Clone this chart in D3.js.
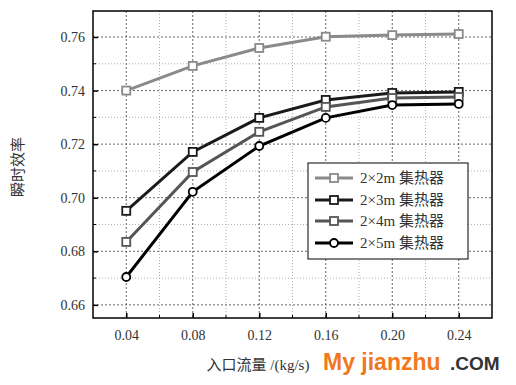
<!DOCTYPE html>
<html>
<head>
<meta charset="utf-8">
<script src="https://cdn.jsdelivr.net/npm/d3@7"></script>
<style>
  body { margin: 0; background: #fff; }
</style>
</head>
<body>
<div id="chart"></div>
<script>
// flow rates (kg/s)
var flow = [0.04, 0.08, 0.12, 0.16, 0.20, 0.24];
var xTicks = ["0.04", "0.08", "0.12", "0.16", "0.20", "0.24"];
var yTicks = [0.66, 0.68, 0.70, 0.72, 0.74, 0.76];

var names = ["2×2m 集热器", "2×3m 集热器", "2×4m 集热器", "2×5m 集热器"];
var eff2x2 = [0.740, 0.7492, 0.7559, 0.7601, 0.7607, 0.7611];
var eff2x3 = [0.6951, 0.7171, 0.7298, 0.7365, 0.7391, 0.7395];
var eff2x4 = [0.6835, 0.7096, 0.7246, 0.7339, 0.7372, 0.7376];
var eff2x5 = [0.6704, 0.7022, 0.7193, 0.7298, 0.7346, 0.7350];

var series = [
  { name: names[0], values: eff2x2, color: "#8a8a8a", marker: "square" },
  { name: names[1], values: eff2x3, color: "#1a1a1a", marker: "square" },
  { name: names[2], values: eff2x4, color: "#555555", marker: "square" },
  { name: names[3], values: eff2x5, color: "#000000", marker: "circle" }
];

var serifFont = "'Liberation Serif', 'Times New Roman', 'Noto Sans CJK SC', serif";
var sansFont = "'Liberation Sans', Arial, sans-serif";

var svgWidth = 516, svgHeight = 385;
var margin = { top: 11, right: 24, bottom: 67, left: 93 };
var width = svgWidth - margin.left - margin.right;
var height = svgHeight - margin.top - margin.bottom;

var svg = d3.select("#chart").append("svg")
  .attr("width", svgWidth)
  .attr("height", svgHeight);

var g = svg.append("g")
  .attr("transform", `translate(${margin.left}, ${margin.top})`);

var x = d3.scaleLinear().domain([0.02, 0.26]).range([0, width]);
var y = d3.scaleLinear().domain([0.6551, 0.7697]).range([height, 0]);

var xMinor = d3.range(0.06, 0.26, 0.04);
var yMinor = [0.67, 0.69, 0.71, 0.73, 0.75];

// grid: minor dotted, major dashed
g.selectAll(".vminor").data(xMinor).enter().append("line")
  .attr("x1", d => x(d)).attr("x2", d => x(d))
  .attr("y1", 0).attr("y2", height)
  .attr("stroke", "#b0b0b0").attr("stroke-width", 1)
  .attr("stroke-dasharray", "1,2");
g.selectAll(".hminor").data(yMinor).enter().append("line")
  .attr("y1", d => y(d)).attr("y2", d => y(d))
  .attr("x1", 0).attr("x2", width)
  .attr("stroke", "#b0b0b0").attr("stroke-width", 1)
  .attr("stroke-dasharray", "1,2");
g.selectAll(".vmajor").data(flow).enter().append("line")
  .attr("x1", d => x(d)).attr("x2", d => x(d))
  .attr("y1", 0).attr("y2", height)
  .attr("stroke", "#666").attr("stroke-width", 1)
  .attr("stroke-dasharray", "2,2");
g.selectAll(".hmajor").data(yTicks).enter().append("line")
  .attr("y1", d => y(d)).attr("y2", d => y(d))
  .attr("x1", 0).attr("x2", width)
  .attr("stroke", "#666").attr("stroke-width", 1)
  .attr("stroke-dasharray", "2,2");

// axes (ticks inward)
var bottomAxis = d3.axisBottom(x).tickValues(flow)
  .tickFormat((d, i) => xTicks[i]).tickSizeInner(-5).tickSizeOuter(0).tickPadding(12);
var leftAxis = d3.axisLeft(y).tickValues(yTicks)
  .tickFormat(d3.format(".2f")).tickSizeInner(-5).tickSizeOuter(0).tickPadding(8);

var xa = g.append("g").attr("transform", `translate(0, ${height})`).call(bottomAxis);
var ya = g.append("g").call(leftAxis);
[xa, ya].forEach(function(a) {
  a.select(".domain").remove();
  a.selectAll("line").attr("stroke", "#000").attr("stroke-width", 1.5);
  a.selectAll("text").attr("fill", "#333")
    .style("font-size", "14px").style("font-family", serifFont);
});

// minor ticks
g.selectAll(".xmt").data(xMinor).enter().append("line")
  .attr("x1", d => x(d)).attr("x2", d => x(d))
  .attr("y1", height).attr("y2", height - 3)
  .attr("stroke", "#000").attr("stroke-width", 1);
g.selectAll(".ymt").data(yMinor).enter().append("line")
  .attr("y1", d => y(d)).attr("y2", d => y(d))
  .attr("x1", 0).attr("x2", 3)
  .attr("stroke", "#000").attr("stroke-width", 1);

// frame
g.append("rect").attr("width", width).attr("height", height)
  .attr("fill", "none").attr("stroke", "#000").attr("stroke-width", 1.5);

var line = d3.line().x((d, i) => x(flow[i])).y(d => y(d));

function drawMarker(sel, s, cx, cy) {
  if (s.marker === "circle") {
    sel.append("circle").attr("cx", cx).attr("cy", cy).attr("r", 4)
      .attr("fill", "#fff").attr("stroke", s.color).attr("stroke-width", 1.8);
  } else {
    sel.append("rect").attr("x", cx - 4).attr("y", cy - 4)
      .attr("width", 8).attr("height", 8)
      .attr("fill", "#fff").attr("stroke", s.color).attr("stroke-width", 1.8);
  }
}

series.forEach(function(s) {
  g.append("path").datum(s.values)
    .attr("d", line).attr("fill", "none")
    .attr("stroke", s.color).attr("stroke-width", 3);
  s.values.forEach(function(v, i) {
    drawMarker(g, s, x(flow[i]), y(v));
  });
});

// legend
var lg = svg.append("g").attr("transform", "translate(308, 163)");
lg.append("rect").attr("width", 160).attr("height", 96)
  .attr("fill", "#fff").attr("stroke", "#000").attr("stroke-width", 1);
var rowY = [15, 37, 58, 80];
series.forEach(function(s, i) {
  var ry = rowY[i];
  lg.append("line").attr("x1", 7).attr("x2", 45).attr("y1", ry).attr("y2", ry)
    .attr("stroke", s.color).attr("stroke-width", 3);
  drawMarker(lg, s, 26, ry);
  lg.append("text").attr("x", 52).attr("y", ry + 5)
    .attr("fill", "#333")
    .style("font-size", "15px").style("font-family", serifFont)
    .text(s.name);
});

// axis titles
svg.append("text")
  .attr("transform", "translate(23, 167) rotate(-90)")
  .attr("text-anchor", "middle")
  .attr("fill", "#333")
  .style("font-size", "15px").style("font-family", serifFont)
  .text("瞬时效率");

svg.append("text")
  .attr("x", 258).attr("y", 370)
  .attr("text-anchor", "middle")
  .attr("fill", "#333")
  .style("font-size", "15px").style("font-family", serifFont)
  .text("入口流量 /(kg/s)");

// watermark
svg.append("text").attr("x", 323).attr("y", 370)
  .attr("fill", "#f07820")
  .style("font-family", sansFont).style("font-size", "23px").style("font-weight", "bold")
  .text("My jianzhu");
svg.append("text").attr("x", 450).attr("y", 370)
  .attr("fill", "#333")
  .style("font-family", sansFont).style("font-size", "19px").style("font-weight", "bold")
  .text(".COM");
</script>
</body>
</html>
